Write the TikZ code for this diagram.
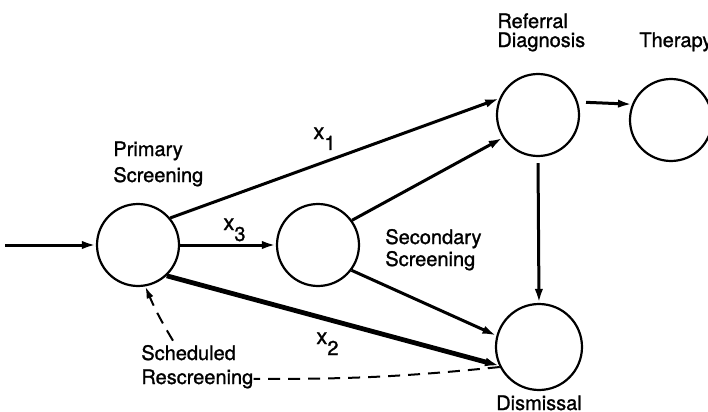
\documentclass[tikz,border=0pt]{standalone}
\usepackage{fontspec}
\setmainfont[FakeBold=1.2,AutoFakeBold=1.2]{TeX Gyre Heros}
\usetikzlibrary{arrows.meta}
\begin{document}
\begin{tikzpicture}[x=0.5pt,y=-0.5pt,
  state/.style={circle,draw,line width=1.1pt,minimum size=41pt,inner sep=0pt},
  statebig/.style={state,minimum size=43pt},
  lbl/.style={font=\fontsize{10}{12}\selectfont\bfseries,inner sep=0pt,anchor=base west},
  xl/.style={font=\fontsize{11}{12}\selectfont\bfseries,inner sep=0pt,anchor=base west},
  flow/.style={line width=1.5pt,-{Latex[length=7pt,width=4.2pt]}},
  flowthick/.style={line width=2.4pt,-{Latex[length=7pt,width=4.5pt]}},
  back/.style={line width=1pt,dash pattern=on 6pt off 4pt},
]
\useasboundingbox (0,0) rectangle (708,412);
% states
\node[state] (P) at (138,245) {};
\node[state] (S) at (318,245) {};
\node[state] (R) at (538,115) {};
\node[state] (T) at (671,120) {};
\node[statebig] (D) at (539,347) {};
% labels
\node[lbl] (p1) at (113,156) {Primary};
\node[lbl] (p2) at (113,182) {Screening};
\node[lbl] (r1) at (497,28) {Referral};
\node[lbl] (r2) at (497,47) {Diagnosis};
\node[lbl] (t1) at (639,47) {Therapy};
\node[lbl] (s1) at (385,244) {Secondary};
\node[lbl] (s2) at (385,266) {Screening};
\node[lbl] (sc) at (141,360) {Scheduled};
\node[lbl] (rs) at (141,384) {Rescreening};
\node[lbl,anchor=base] (dm) at (539,410) {Dismissal};
\node[xl] (x1) at (313,139) {x\raisebox{-5.5pt}{\fontsize{10}{12}\selectfont 1}};
\node[xl] (x3) at (223,230) {x\raisebox{-5.5pt}{\fontsize{10}{12}\selectfont 3}};
\node[xl] (x2) at (316,344) {x\raisebox{-5.5pt}{\fontsize{10}{12}\selectfont 2}};
% connectors
\coordinate (in) at (5,245);
\draw[flow] (in) -- (P);
\draw[flow] (P.40) -- (R.157);
\draw[flow] (P) -- (S);
\draw[flowthick] (P.-47) -- (D.205);
\draw[flow] (S.36) -- (R.213);
\draw[flow] (S.-37) -- (D.165);
\draw[flow,shorten <=4pt] (R.18) -- (T.158);
\draw[flow,shorten <=3pt] (R.south) -- (D.north);
\draw[back] (D.207) to[bend left=3] (rs.east);
\draw[back,-{Latex[length=6pt,width=3.6pt]}] ([xshift=16pt,yshift=2pt]sc.north west) to[bend left=4] (P.-80);
\end{tikzpicture}
\end{document}
